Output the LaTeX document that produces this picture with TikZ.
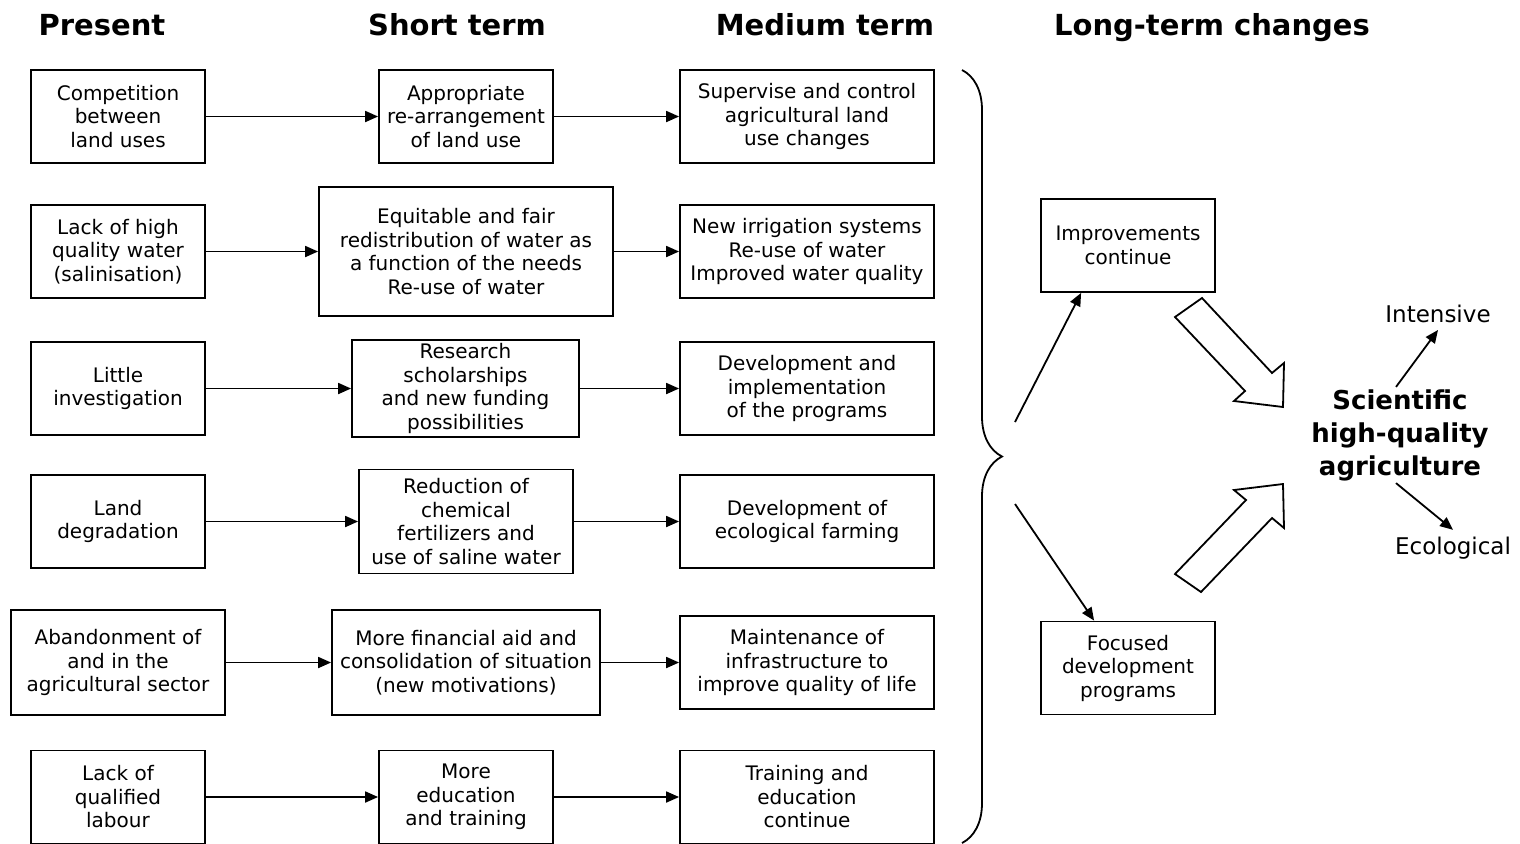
\documentclass[tikz,border=0pt]{standalone}
\usepackage{fontspec}
\setmainfont{DejaVu Sans}
\usetikzlibrary{arrows.meta,positioning,calc,decorations.pathreplacing}

\begin{document}
\begin{tikzpicture}[x=0.5pt, y=-0.5pt,
  b/.style={draw, line width=0.9pt, align=center, inner sep=1pt, font=\fontsize{10}{11.75}\selectfont},
  pbox/.style={b, minimum width=87pt, minimum height=46.5pt},
  mbox/.style={b, minimum width=127pt, minimum height=46.5pt},
  hd/.style={anchor=base, font=\fontsize{14.5}{17}\selectfont\bfseries},
  lbl/.style={font=\fontsize{11.5}{14}\selectfont},
  con/.style={->, line width=0.9pt},
  >={Triangle[length=6.5pt,width=5.5pt]}]
\useasboundingbox (0,0) rectangle (1520,843);

% headings
\node[hd] (hpre) at (102,35) {Present};
\node[hd] (hshort) at (457,35) {Short term};
\node[hd] (hmed) at (825,35) {Medium term};
\node[hd] (hlong) at (1212,35) {Long-term changes};

% present
\node[pbox] (p1) at (118,116.5) {Competition\\between\\land uses};
\node[pbox] (p2) at (118,251.5) {Lack of high\\quality water\\(salinisation)};
\node[pbox] (p3) at (118,388.5) {Little\\investigation};
\node[pbox] (p4) at (118,521.5) {Land\\degradation};
\node[pbox, minimum width=107pt, minimum height=52.5pt] (p5) at (118,662.5) {Abandonment of\\and in the\\agricultural sector};
\node[pbox] (p6) at (118,797) {Lack of\\qualified\\labour};

% short term
\node[pbox] (s1) at (466,116.5) {Appropriate\\re-arrangement\\of land use};
\node[b, minimum width=147pt, minimum height=64.5pt] (s2) at (466,251.5) {Equitable and fair\\redistribution of water as\\a function of the needs\\Re-use of water};
\node[b, minimum width=113.5pt, minimum height=48.5pt] (s3) at (465.5,388.5) {Research\\scholarships\\and new funding\\possibilities};
\node[b, minimum width=107pt, minimum height=52pt] (s4) at (466,521.5) {Reduction of\\chemical\\fertilizers and\\use of saline water};
\node[b, minimum width=134pt, minimum height=52.5pt] (s5) at (466,662.5) {More financial aid and\\consolidation of situation\\(new motivations)};
\node[pbox] (s6) at (466,797) {More\\education\\and training};

% medium term
\node[mbox] (m1) at (807,116.5) {Supervise and control\\agricultural land\\use changes};
\node[mbox] (m2) at (807,251.5) {New irrigation systems\\Re-use of water\\Improved water quality};
\node[mbox] (m3) at (807,388.5) {Development and\\implementation\\of the programs};
\node[mbox] (m4) at (807,521.5) {Development of\\ecological farming};
\node[mbox] (m5) at (807,662.5) {Maintenance of\\infrastructure to\\improve quality of life};
\node[mbox] (m6) at (807,797) {Training and\\education\\continue};

\foreach \r in {1,...,6} {
  \draw[con] (p\r) -- (s\r);
  \draw[con] (s\r) -- (m\r);
}

% long term
\draw[line width=0.9pt, decorate, decoration={brace, amplitude=20pt}] (962,70) -- (962,843);
\coordinate (t1) at (1015,422);
\coordinate (t2) at (1015,504);
\node[pbox] (imp) at (1128,245.5) {Improvements\\continue};
\node[pbox] (foc) at (1128,668) {Focused\\development\\programs};
\draw[con] (t1) -- ([xshift=20.5pt]imp.south west);
\draw[con] (t2) -- ([xshift=27pt]foc.north west);

% hollow arrows
\draw[line width=0.9pt] (1175,317) -- (1202,298) -- (1272,373) -- (1284,363) -- (1283,407) -- (1234,401) -- (1245,391) -- cycle;
\draw[line width=0.9pt] (1175,574) -- (1246,500) -- (1234,490) -- (1283,484) -- (1284,528) -- (1272,518) -- (1201,592) -- cycle;

\node[align=center, inner sep=1pt, font=\fontsize{13}{16.5}\selectfont\bfseries] (sci) at (1400,435) {Scientific\\high-quality\\agriculture};
\node[lbl] (int) at (1438,314) {Intensive};
\node[lbl] (eco) at (1453,548) {Ecological};
\draw[con] ([xshift=-2pt]sci.north) -- (int.south);
\draw[con] ([xshift=-2pt]sci.south) -- (eco.north);
\end{tikzpicture}
\end{document}
